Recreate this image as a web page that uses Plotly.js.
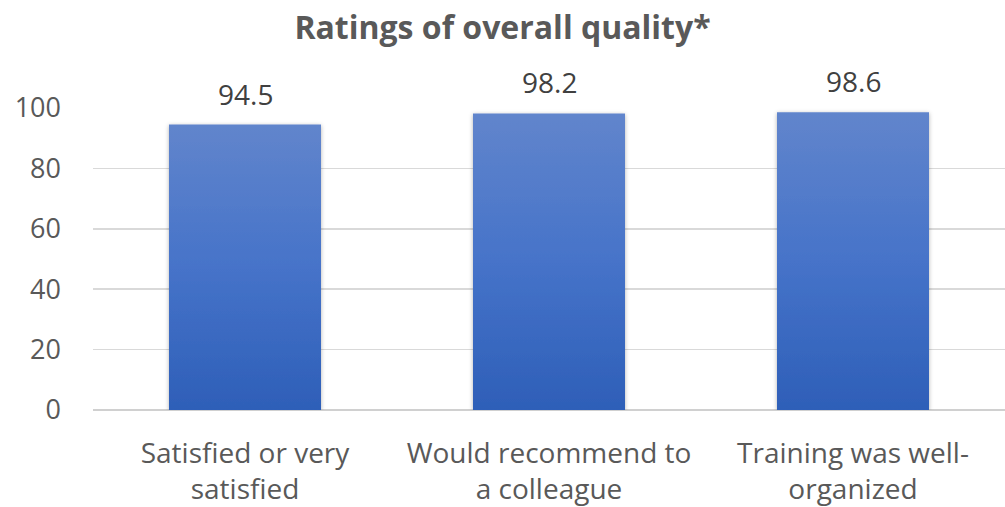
<!DOCTYPE html>
<html><head><meta charset="utf-8">
<script src="https://cdn.plot.ly/plotly-3.0.1.min.js"></script>
<style>body{margin:0;background:#fff}#c{width:1005px;height:507px}</style>
</head><body><div id="c"></div>
<script>
const categories = ["Satisfied or very<br>satisfied", "Would recommend to<br>a colleague", "Training was well-<br>organized"];
const values = [94.5, 98.2, 98.6];
const tickVals = [0, 20, 40, 60, 80, 100];

const font = "'Open Sans', sans-serif";
const trace = {
  type: "bar", x: categories, y: values,
  marker: {color: "#4472c4", line: {width: 0}},
  cliponaxis: false, width: 0.5, hoverinfo: "none"
};
const annotations = categories.map((c, i) => ({
  x: c, y: values[i], xref: "x", yref: "y", text: values[i].toFixed(1),
  showarrow: false, yanchor: "bottom", yshift: 10,
  font: {family: font, size: 28, color: "#404040"}
}));
const layout = {
  width: 1005, height: 507,
  margin: {l: 93, r: 0, t: 108, b: 97},
  paper_bgcolor: "#fff", plot_bgcolor: "#fff",
  title: {text: "<b>Ratings of overall quality*</b>", x: 0.5, xanchor: "center", y: 0.945, yanchor: "middle",
          font: {family: font, size: 32, color: "#595959"}},
  xaxis: {tickfont: {family: font, size: 28, color: "#595959"}, showgrid: false, zeroline: false,
          showline: false, ticks: "", ticklabelstandoff: 24},
  yaxis: {range: [0, 100], tickvals: tickVals, tickfont: {family: font, size: 27, color: "#595959"},
          gridcolor: "#d9d9d9", gridwidth: 1.5, zeroline: true, zerolinecolor: "#d0d0d0", zerolinewidth: 1.5,
          showline: false, ticks: "", ticklabelstandoff: 31},
  annotations: annotations,
  showlegend: false
};
Plotly.newPlot("c", [trace], layout, {staticPlot: true}).then(gd => {
  const svg = gd.querySelector("svg.main-svg");
  const ns = "http://www.w3.org/2000/svg";
  let defs = svg.querySelector("defs");
  if (!defs) { defs = document.createElementNS(ns, "defs"); svg.insertBefore(defs, svg.firstChild); }
  const g = document.createElementNS(ns, "linearGradient");
  g.setAttribute("id", "barGrad"); g.setAttribute("x1", "0"); g.setAttribute("y1", "0");
  g.setAttribute("x2", "0"); g.setAttribute("y2", "1");
  [["0", "#6185cc"], ["0.5", "#4673c9"], ["1", "#2e5fb8"]].forEach(([o, c]) => {
    const s = document.createElementNS(ns, "stop");
    s.setAttribute("offset", o); s.setAttribute("stop-color", c); g.appendChild(s);
  });
  defs.appendChild(g);
  const f = document.createElementNS(ns, "filter");
  f.setAttribute("id", "barShadow"); f.setAttribute("x", "-10%"); f.setAttribute("y", "-10%");
  f.setAttribute("width", "120%"); f.setAttribute("height", "120%");
  const ds = document.createElementNS(ns, "feDropShadow");
  ds.setAttribute("dx", "0"); ds.setAttribute("dy", "1"); ds.setAttribute("stdDeviation", "2");
  ds.setAttribute("flood-color", "#000"); ds.setAttribute("flood-opacity", "0.3");
  f.appendChild(ds); defs.appendChild(f);
  gd.querySelectorAll(".bars .point path").forEach(p => {
    p.style.fill = "url(#barGrad)"; p.style.fillOpacity = 1;
    p.setAttribute("filter", "url(#barShadow)");
  });
});
</script></body></html>
